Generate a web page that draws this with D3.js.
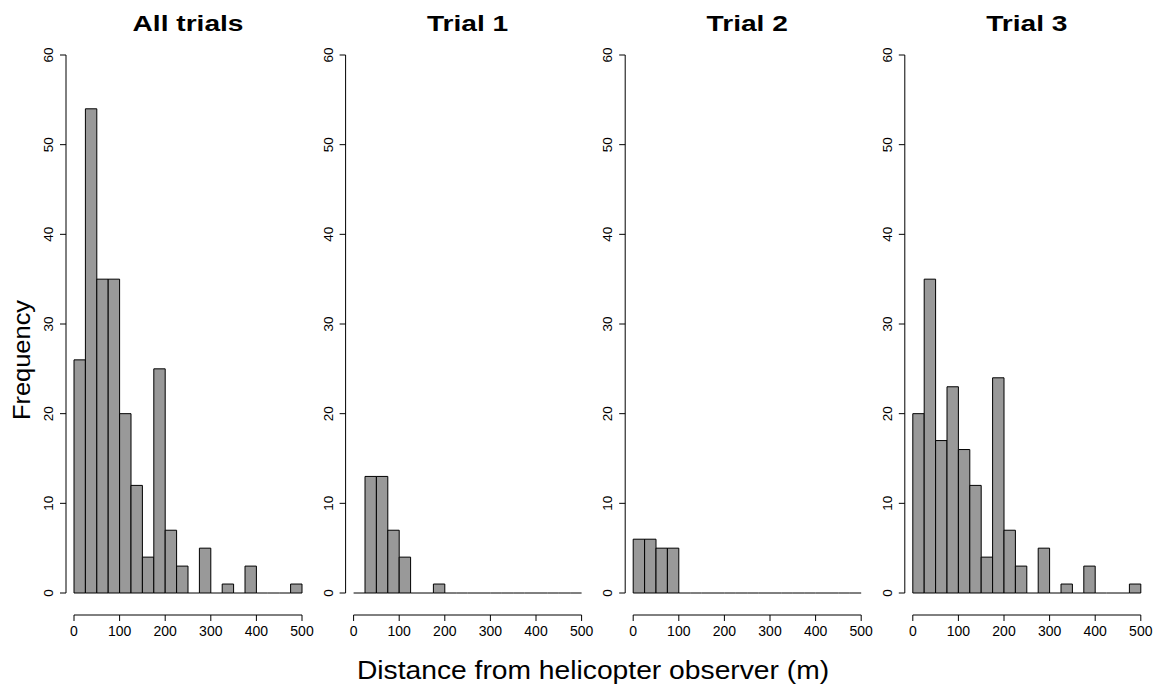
<!DOCTYPE html>
<html>
<head>
<meta charset="utf-8">
<script src="https://cdn.jsdelivr.net/npm/d3@7"></script>
<style>
  body { margin: 0; background: #fff; }
  text { font-family: Arial, "Liberation Sans", sans-serif; fill: #000; }
</style>
</head>
<body>
<script>
// bins of 25 m from 0 to 500
var binEdges = d3.range(0, 500, 25);
var panelTitles = ["All trials", "Trial 1", "Trial 2", "Trial 3"];
var allTrials = [26, 54, 35, 35, 20, 12, 4, 25, 7, 3, 0, 5, 0, 1, 0, 3, 0, 0, 0, 1];
var trial1 = [0, 13, 13, 7, 4, 0, 0, 1, 0, 0, 0, 0, 0, 0, 0, 0, 0, 0, 0, 0];
var trial2 = [6, 6, 5, 5, 0, 0, 0, 0, 0, 0, 0, 0, 0, 0, 0, 0, 0, 0, 0, 0];
var trial3 = [20, 35, 17, 23, 16, 12, 4, 24, 7, 3, 0, 5, 0, 1, 0, 3, 0, 0, 0, 1];
var xTicks = [0, 100, 200, 300, 400, 500];
var yTicks = [0, 10, 20, 30, 40, 50, 60];

var series = [allTrials, trial1, trial2, trial3];

var W = 1157, H = 686;
var svg = d3.select("body").append("svg")
    .attr("width", W)
    .attr("height", H);

var y = d3.scaleLinear().domain([0, 60]).range([593, 55]);
var xAxisY = 615;

series.forEach(function (counts, i) {
    var x0 = 74 + i * 279.6;
    var x = d3.scaleLinear().domain([0, 500]).range([x0, x0 + 228]);
    var g = svg.append("g");

    // bars (empty bins are drawn as a flat line, like R's hist)
    g.selectAll(".bar")
        .data(counts.filter(function (d) { return d > 0; }).length ? counts : [])
        .enter().append("path")
        .attr("d", function (d, j) {
            var l = x(binEdges[j]), r = x(binEdges[j] + 25);
            if (d === 0) return "M" + l + "," + y(0) + "H" + r;
            return "M" + l + "," + y(0) + "V" + y(d) + "H" + r + "V" + y(0) + "Z";
        })
        .attr("fill", "#999999")
        .attr("stroke", "#000")
        .attr("stroke-width", 1);

    // y axis
    var ax = x0 - 8;
    g.append("line")
        .attr("x1", ax).attr("x2", ax)
        .attr("y1", y(0)).attr("y2", y(60))
        .attr("stroke", "#000");
    g.selectAll(".ytick")
        .data(yTicks)
        .enter().append("line")
        .attr("x1", ax - 6).attr("x2", ax)
        .attr("y1", function (d) { return y(d); })
        .attr("y2", function (d) { return y(d); })
        .attr("stroke", "#000");
    g.selectAll(".ylab")
        .data(yTicks)
        .enter().append("text")
        .attr("transform", function (d) { return "translate(" + (ax - 13) + "," + y(d) + ") rotate(-90)"; })
        .attr("text-anchor", "middle")
        .attr("font-size", "13.5px")
        .text(function (d) { return d; });

    // x axis
    g.append("line")
        .attr("x1", x(0)).attr("x2", x(500))
        .attr("y1", xAxisY).attr("y2", xAxisY)
        .attr("stroke", "#000");
    g.selectAll(".xtick")
        .data(xTicks)
        .enter().append("line")
        .attr("x1", function (d) { return x(d); })
        .attr("x2", function (d) { return x(d); })
        .attr("y1", xAxisY).attr("y2", xAxisY + 6)
        .attr("stroke", "#000");
    g.selectAll(".xlab")
        .data(xTicks)
        .enter().append("text")
        .attr("x", function (d) { return x(d); })
        .attr("y", 636)
        .attr("text-anchor", "middle")
        .attr("font-size", "14px")
        .text(function (d) { return d; });

    // title
    g.append("text")
        .attr("transform", "translate(" + x(250) + ",31) scale(1.25,1)")
        .attr("text-anchor", "middle")
        .attr("font-size", "22.5px")
        .attr("font-weight", "bold")
        .text(panelTitles[i]);
});

// outer labels
svg.append("text")
    .attr("transform", "translate(593,679) scale(1.13,1)")
    .attr("text-anchor", "middle")
    .attr("font-size", "25px")
    .text("Distance from helicopter observer (m)");

svg.append("text")
    .attr("transform", "translate(30,360) rotate(-90) scale(1.06,1)")
    .attr("text-anchor", "middle")
    .attr("font-size", "24px")
    .text("Frequency");
</script>
</body>
</html>
